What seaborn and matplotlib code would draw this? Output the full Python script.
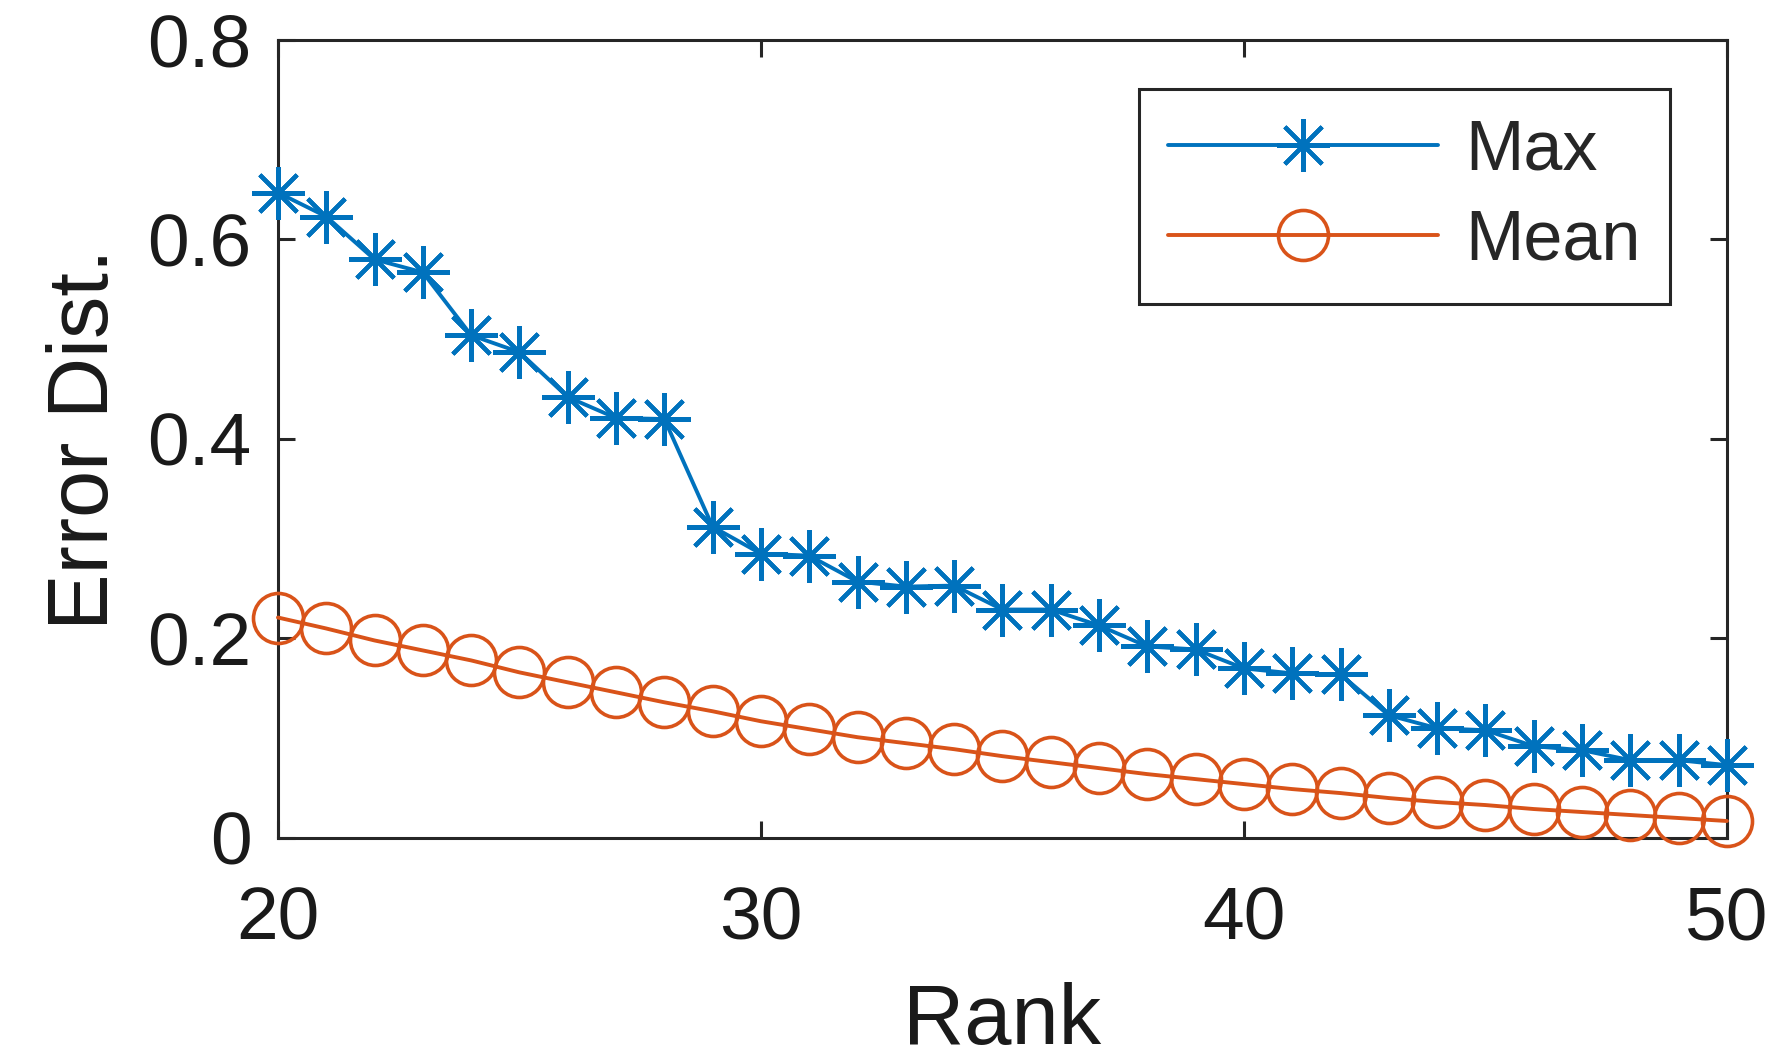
import matplotlib
matplotlib.use("Agg")
import matplotlib.pyplot as plt
import pandas as pd
import seaborn as sns

# data
rank = list(range(20, 51))
max_err = [0.647, 0.623, 0.580, 0.567, 0.504, 0.487, 0.442, 0.421, 0.420, 0.312,
           0.285, 0.283, 0.257, 0.252, 0.253, 0.229, 0.229, 0.213, 0.192, 0.189,
           0.170, 0.165, 0.164, 0.123, 0.110, 0.108, 0.092, 0.088, 0.078, 0.078,
           0.073]
mean_err = [0.221, 0.210, 0.198, 0.188, 0.178, 0.166, 0.156, 0.146, 0.136, 0.127,
            0.117, 0.109, 0.101, 0.095, 0.089, 0.082, 0.076, 0.070, 0.064, 0.059,
            0.054, 0.049, 0.045, 0.040, 0.036, 0.033, 0.029, 0.026, 0.023, 0.020,
            0.017]
x_ticks = [20, 30, 40, 50]
y_ticks = [0, 0.2, 0.4, 0.6, 0.8]
y_ticklabels = ["0", "0.2", "0.4", "0.6", "0.8"]

df = pd.DataFrame({"Rank": rank, "Max": max_err, "Mean": mean_err})

sns.set_style("white")
plt.rcParams['font.family'] = ['Liberation Sans', 'DejaVu Sans']

blue = "#0072BD"
orange = "#D95319"
dark = "#262626"

fig = plt.figure(figsize=(17.84, 10.63), dpi=100)
ax = fig.add_axes([0.1558, 0.2117, 0.968 - 0.1558, 0.9624 - 0.2117])

sns.lineplot(data=df, x="Rank", y="Max", ax=ax, color=blue,
             marker=(8, 2, 0), markersize=38, markeredgewidth=3.0,
             markeredgecolor=blue, label="Max", clip_on=False)
sns.lineplot(data=df, x="Rank", y="Mean", ax=ax, color=orange,
             marker="o", markersize=36, markerfacecolor="none",
             markeredgewidth=2.6, markeredgecolor=orange, label="Mean",
             clip_on=False)
for ln in ax.lines:
    ln.set_linewidth(2.8)

ax.set_xlim(20, 50)
ax.set_ylim(0, 0.8)
ax.set_xticks(x_ticks)
ax.set_yticks(y_ticks)
ax.set_yticklabels(y_ticklabels)
for sp in ax.spines.values():
    sp.set_visible(True)
    sp.set_color(dark)
    sp.set_linewidth(2.2)
    sp.set_zorder(1)
ax.tick_params(direction="in", length=12, width=2.2, color=dark,
               labelsize=54, labelcolor="#1a1a1a",
               top=True, right=True, bottom=True, left=True)
ax.tick_params(axis="y", pad=19)
ax.tick_params(axis="x", pad=34)

ax.set_xlabel("Rank", fontsize=61, color="#1a1a1a", labelpad=20)
ax.set_ylabel("Error Dist.", fontsize=61, color="#1a1a1a", labelpad=15)

leg = ax.legend(loc="upper right", bbox_to_anchor=(0.9607, 0.9386),
                borderaxespad=0, fontsize=50.5, frameon=True, fancybox=False,
                edgecolor=dark, framealpha=1, handlelength=3.85,
                handletextpad=0.38, borderpad=0.42, labelspacing=0.34,
                numpoints=1)
leg.get_frame().set_linewidth(2.2)
leg.set_zorder(5)

fig.savefig("out.png", dpi=100, facecolor="white")
